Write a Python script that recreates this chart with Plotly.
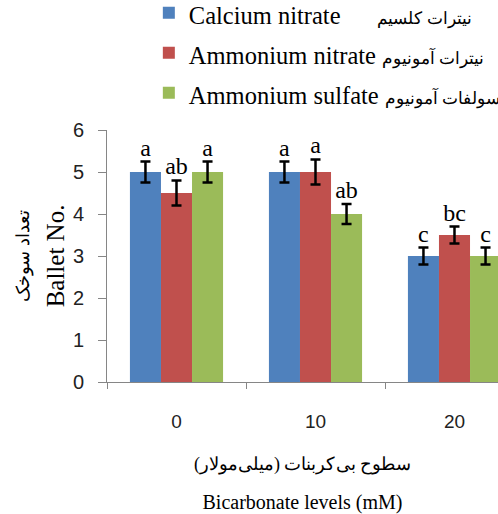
import plotly.graph_objects as go

categories = ["0", "10", "20"]
series_names = ["Calcium nitrate", "Ammonium nitrate", "Ammonium sulfate"]
series_fa = ["نیترات کلسیم", "نیترات آمونیوم", "سولفات آمونیوم"]
calcium_nitrate = [5, 5, 3]
ammonium_nitrate = [4.5, 5, 3.5]
ammonium_sulfate = [5, 4, 3]
err_calcium = [0.25, 0.25, 0.2]
err_amm_nitrate = [0.3, 0.3, 0.2]
err_amm_sulfate = [0.25, 0.24, 0.2]
letters_calcium = ["a", "a", "c"]
letters_amm_nitrate = ["ab", "a", "bc"]
letters_amm_sulfate = ["a", "ab", "c"]
colors = ["#4F81BD", "#C0504D", "#9BBB59"]

values = [calcium_nitrate, ammonium_nitrate, ammonium_sulfate]
errors = [err_calcium, err_amm_nitrate, err_amm_sulfate]
letters = [letters_calcium, letters_amm_nitrate, letters_amm_sulfate]
pads = ["&nbsp;" * 6, "&nbsp;", "&nbsp;"]

SERIF = "Liberation Serif"
SANS = "Liberation Sans"

fig = go.Figure()
for i in range(3):
    name = (f"<span style='font-size:24.5px'>{series_names[i]}{pads[i]}</span>"
            f"<span style='font-size:17px'>\u200f{series_fa[i]}\u200f</span>")
    fig.add_trace(go.Bar(
        x=categories, y=values[i], name=name, offsetgroup=str(i),
        marker=dict(color=colors[i], line=dict(width=0)),
        error_y=dict(type="data", array=errors[i], visible=True,
                     color="black", thickness=2.5, width=5),
    ))
for i in range(3):
    fig.add_trace(go.Scatter(
        x=categories, y=[v + e for v, e in zip(values[i], errors[i])],
        mode="text", text=letters[i], textposition="top center",
        textfont=dict(family=SERIF, size=24, color="black"),
        offsetgroup=str(i), showlegend=False, hoverinfo="skip",
    ))

xtitle = ("<span style='font-size:18px'>\u200fسطوح بی‌کربنات (میلی‌مولار)\u200f</span>"
          "<br><span style='font-size:20px'>Bicarbonate levels (mM)</span>")
ytitle = ("<span style='font-size:18px'>\u200fتعداد سوخک\u200f</span>"
          "<br><span style='font-size:25px'>Ballet No.</span>")

fig.update_layout(
    width=498, height=514,
    margin=dict(l=107, r=0, t=130, b=132, autoexpand=False),
    paper_bgcolor="white", plot_bgcolor="white",
    barmode="group", bargap=0.33, bargroupgap=0,
    scattermode="group", scattergap=0.33,
    showlegend=True,
    legend=dict(
        x=0.107, xanchor="left", y=1.565, yanchor="top",
        xref="paper", yref="paper",
        font=dict(family=SERIF, size=28.5, color="black"),
        bgcolor="rgba(0,0,0,0)", borderwidth=0,
        itemwidth=30, tracegroupgap=0, traceorder="normal",
    ),
    xaxis=dict(
        type="category", range=[-0.5, 2.313],
        showline=True, linecolor="#868686", linewidth=1,
        ticks="outside", tickson="boundaries", ticklen=6, tickcolor="#868686",
        tickfont=dict(family=SANS, size=19, color="#222"),
        ticklabelstandoff=22,
        showgrid=False, zeroline=False,
        title=dict(text=xtitle, font=dict(family=SERIF, size=30, color="black"), standoff=18),
        fixedrange=True,
    ),
    yaxis=dict(
        range=[0, 6], dtick=1,
        showline=True, linecolor="#868686", linewidth=1,
        ticks="outside", ticklen=8, tickcolor="#868686",
        tickfont=dict(family=SANS, size=20, color="#222"),
        ticklabelstandoff=10,
        showgrid=False, zeroline=False,
        title=dict(text=ytitle, font=dict(family=SERIF, size=27, color="black"), standoff=0),
    ),
)

fig.write_html(
    "out.html",
    config={"displayModeBar": False},
    post_script="document.body.style.margin='0';document.body.style.overflow='hidden';",
)
